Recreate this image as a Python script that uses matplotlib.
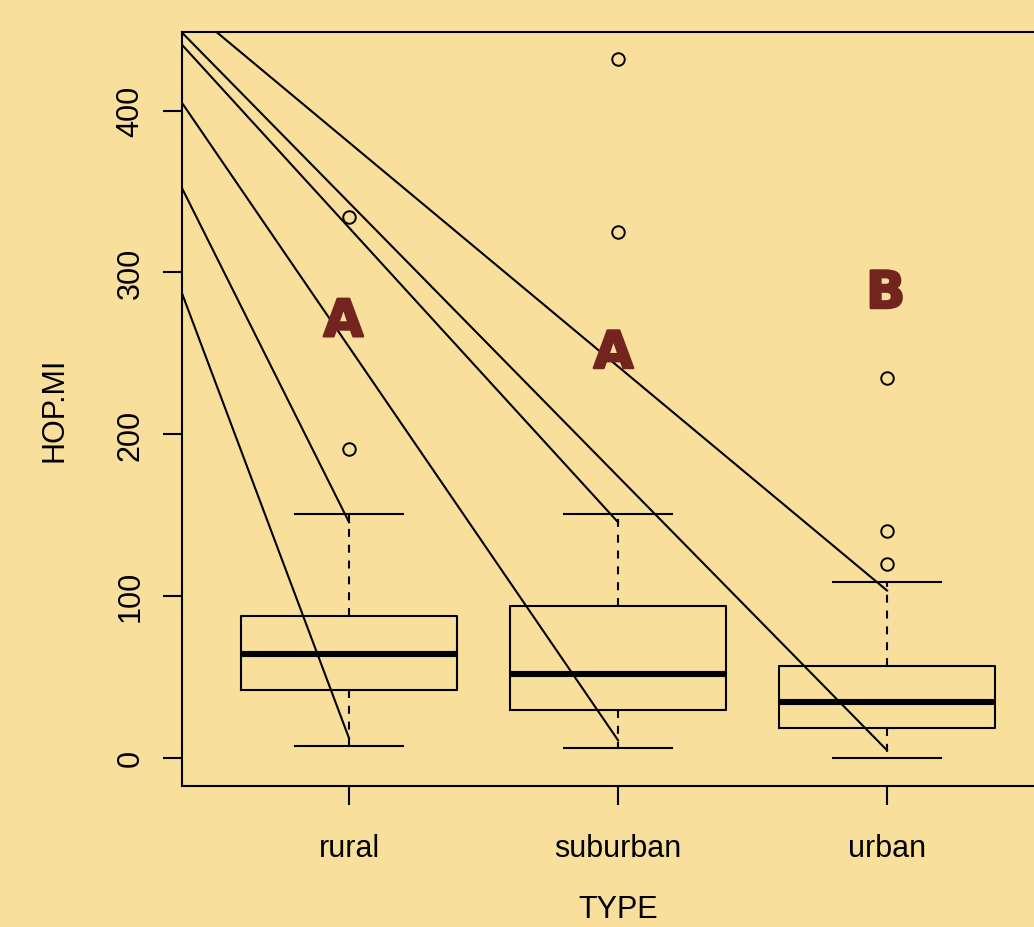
import matplotlib
matplotlib.use("Agg")
import matplotlib.pyplot as plt
import matplotlib.patheffects as pe

# boxplot statistics
types = ["rural", "suburban", "urban"]
whislo = [7.0, 5.8, 0.0]
q1 = [41.6, 29.3, 18.1]
med = [63.9, 51.5, 34.2]
q3 = [87.4, 93.6, 56.5]
whishi = [150.7, 150.7, 108.4]
fliers = [[190.5, 334.0], [325.0, 431.7], [120.0, 139.8, 235.0]]

# group letters and their heights
letters = ["A", "A", "B"]
letter_x = [0.979, 1.983, 2.995]
letter_y = [260.5, 240.9, 278.0]

# straight lines fanning out from one point to the whisker ends
line_origin = (-0.21, 548.0)
line_end_lo = [11.9, 10.7, 4.5]
line_end_hi = [145.5, 145.5, 103.3]

bg = "#F8E09C"
plt.rcParams["font.family"] = ["Liberation Sans", "DejaVu Sans"]

fig = plt.figure(figsize=(10.34, 9.28), dpi=100, facecolor=bg)
ax = fig.add_axes([182.3 / 1034, 141.5 / 928, 871.5 / 1034, 754 / 928])
ax.set_facecolor(bg)

stats = []
for i, t in enumerate(types):
    stats.append(dict(label=t, whislo=whislo[i], q1=q1[i], med=med[i],
                      q3=q3[i], whishi=whishi[i], fliers=fliers[i]))

lw = 1.5
ax.bxp(stats, positions=[1, 2, 3], widths=0.8, capwidths=0.4,
       boxprops=dict(color="black", linewidth=lw),
       medianprops=dict(color="black", linewidth=4.4, solid_capstyle="butt"),
       whiskerprops=dict(color="black", linewidth=lw, linestyle=(0, (3.8, 3.8))),
       capprops=dict(color="black", linewidth=lw),
       flierprops=dict(marker="o", markerfacecolor="none", markeredgecolor="black",
                       markersize=9, markeredgewidth=1.4))

for i in range(len(types)):
    for yend in (line_end_lo[i], line_end_hi[i]):
        ax.plot([line_origin[0], i + 1], [line_origin[1], yend],
                color="black", linewidth=lw)

# heavy letters, thickened a little with a same-colour stroke
for i, s in enumerate(letters):
    ax.text(letter_x[i], letter_y[i], s, ha="center", va="baseline",
            fontsize=37, fontweight="bold", color="#74241E",
            family="DejaVu Sans",
            path_effects=[pe.withStroke(linewidth=1.8, foreground="#74241E")])

ax.set_xlim(0.38, 3.62)
ax.set_ylim(-17.27, 448.97)
ax.set_xticks([1, 2, 3])
ax.set_xticklabels(types)
ax.set_yticks([0, 100, 200, 300, 400])
ax.tick_params(axis="both", length=13.7, width=lw, labelsize=22)
ax.tick_params(axis="x", pad=20.6)
ax.tick_params(axis="y", pad=12.7)
plt.setp(ax.get_yticklabels(), rotation=90, va="center")
for sp in ax.spines.values():
    sp.set_linewidth(lw)

# x label sits at the very bottom edge; kept just inside the figure
fig.text(618 / 1034, 3 / 928, "TYPE", ha="center", va="bottom", fontsize=22)
fig.text(62.7 / 1034, (928 - 409.5) / 928, "HOP.MI", ha="center", va="baseline",
         rotation=90, rotation_mode="anchor", fontsize=22)

fig.savefig("out.png", dpi=100, facecolor=bg)
